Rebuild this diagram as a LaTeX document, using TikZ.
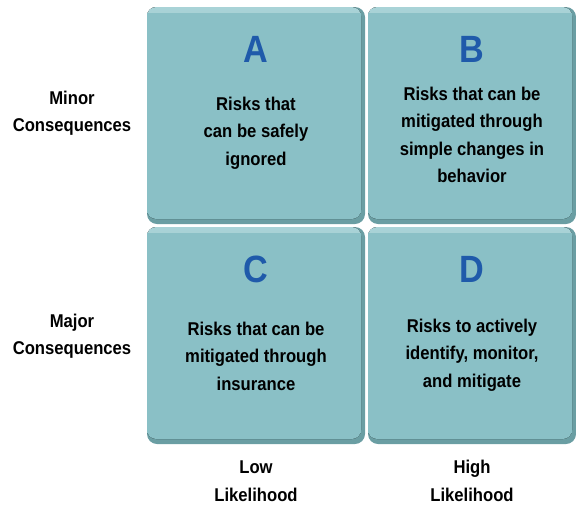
\documentclass[tikz,border=0pt]{standalone}
\usepackage{fontspec}
\setmainfont{Liberation Sans}[FakeStretch=0.9]
\usetikzlibrary{positioning}

\definecolor{tilefill}{HTML}{8AC0C6}
\definecolor{tileedge}{HTML}{6A9EA3}
\definecolor{tilelight}{HTML}{A9D3D7}
\definecolor{letterblue}{HTML}{1F5AAA}

\begin{document}
\begin{tikzpicture}[x=1pt,y=-1pt,
	tileback/.style={fill=tileedge, rounded corners=10pt},
	tilefront/.style={top color=tilelight, bottom color=tilefill, middle color=tilefill, rounded corners=9pt},
	letter/.style={font=\bfseries\fontsize{38}{38}\selectfont, text=letterblue, inner sep=0pt},
	risk/.style={font=\bfseries\fontsize{18.5}{27.5}\selectfont, align=center, inner sep=0pt},
	axis/.style={font=\bfseries\fontsize{18.5}{27.5}\selectfont, align=center, inner sep=0pt}]

% frame %{{{2

	\useasboundingbox (0,0) rectangle (576,504);
	\clip (0,0) rectangle (576,504);

% tiles %{{{2

	\foreach \name/\x/\y/\w in {A/147/7/218, B/368/7/208, C/147/227/218, D/368/227/208} {
		\fill[tileback] (\x,\y) rectangle ++(\w,217);
		\fill[tilefront] (\x,\y) rectangle ++(\w-4,212);
		\fill[tilefill] (\x,\y+6) rectangle ++(\w-4,200);
		\node[letter] (l\name) at ({\x+\w/2},\y+42) {\name};
	}

% tile texts %{{{2

	\node[risk] (tA) at (256,133) {Risks that\\can be safely\\ignored};
	\node[risk] (tB) at (472,135) {Risks that can be\\mitigated through\\simple changes in\\behavior};
	\node[risk] (tC) at (256,356) {Risks that can be\\mitigated through\\insurance};
	\node[risk] (tD) at (472,355) {Risks to actively\\identify, monitor,\\and mitigate};

% axis labels %{{{2

	\node[axis] (minor) at (72,113) {Minor\\Consequences};
	\node[axis] (major) at (72,336) {Major\\Consequences};
	\node[axis] (low) at (256,481) {Low\\Likelihood};
	\node[axis] (high) at (472,481) {High\\Likelihood};

\end{tikzpicture}
\end{document}
